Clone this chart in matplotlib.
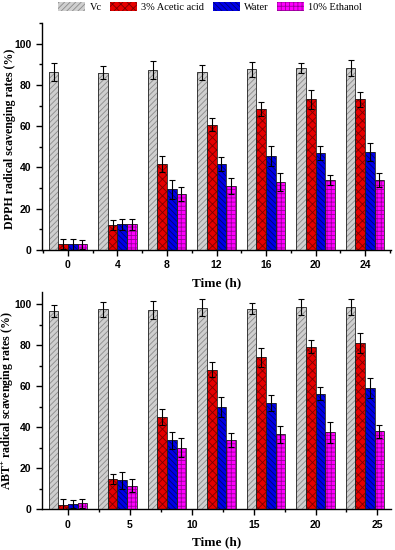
import matplotlib
matplotlib.use("Agg")
import matplotlib.pyplot as plt
import numpy as np
from matplotlib.ticker import MultipleLocator

plt.rcParams['mathtext.fontset'] = 'custom'
plt.rcParams['mathtext.rm'] = 'Liberation Serif:bold'
plt.rcParams['mathtext.it'] = 'Liberation Serif:bold'
plt.rcParams['mathtext.bf'] = 'Liberation Serif:bold'
plt.rcParams['hatch.linewidth'] = 0.6

hours = [0, 4, 8, 12, 16, 20, 24]
series = ["Vc", "3% Acetic acid", "Water", "10% Ethanol"]

dpph_vc = [86.4, 86.0, 87.3, 86.1, 87.6, 88.1, 88.1]
dpph_vc_err = [4.4, 3.0, 4.2, 3.7, 3.7, 2.4, 4.0]
dpph_acetic = [2.8, 12.2, 41.8, 60.8, 68.2, 73.0, 73.0]
dpph_acetic_err = [2.5, 2.5, 3.8, 3.0, 3.4, 4.6, 3.7]
dpph_water = [2.8, 12.4, 29.4, 41.8, 45.6, 47.0, 47.5]
dpph_water_err = [2.7, 2.8, 4.5, 3.4, 4.8, 3.3, 4.2]
dpph_ethanol = [2.8, 12.4, 27.0, 31.0, 33.1, 33.9, 33.9]
dpph_ethanol_err = [2.2, 2.8, 3.4, 4.0, 4.4, 2.3, 3.3]

abts_vc = [96.7, 97.6, 97.2, 98.4, 97.9, 98.7, 98.7]
abts_vc_err = [2.9, 3.7, 4.4, 4.0, 2.6, 3.7, 3.7]
abts_acetic = [2.1, 14.6, 45.0, 68.0, 74.1, 79.3, 81.1]
abts_acetic_err = [2.7, 2.5, 4.0, 3.7, 4.5, 3.2, 5.0]
abts_water = [2.4, 14.1, 33.7, 49.8, 51.8, 56.3, 59.2]
abts_water_err = [2.0, 4.0, 4.2, 5.0, 4.0, 3.2, 4.7]
abts_ethanol = [2.9, 11.4, 30.1, 33.7, 36.6, 37.5, 38.0]
abts_ethanol_err = [2.3, 3.2, 4.7, 3.5, 4.2, 5.3, 3.3]

top_xticks = [0, 4, 8, 12, 16, 20, 24]
bottom_xticks = [0, 5, 10, 15, 20, 25]

faces = ['#cfcfcf', '#e60000', '#0000e6', '#ff00ff']
hatchcols = ['#8a8a8a', '#7a0000', '#000070', '#9a009a']
hatches = ['//////', 'xxxx', '\\\\\\\\\\\\', '++++']

serif = 'Liberation Serif'
sans = 'Liberation Sans'

fig = plt.figure(figsize=(3.95, 5.5), dpi=100)
ax1 = fig.add_axes([42/395, 1-250/550, 349/395, 227/550])
ax2 = fig.add_axes([42/395, 1-509.3/550, 349/395, 217.3/550])

width = 0.775
offsets = np.array([-1.5, -0.5, 0.5, 1.5]) * width

def draw(ax, vals, errs, ylim, xticks, minor_step, ylabel):
    x = np.array(hours, dtype=float)
    handles = []
    for i, (v, e) in enumerate(zip(vals, errs)):
        b = ax.bar(x + offsets[i], v, width, color=faces[i], edgecolor=hatchcols[i],
                   hatch=hatches[i], linewidth=0, zorder=2, label=series[i])
        ax.bar(x + offsets[i], v, width, fill=False, edgecolor='#222222',
               linewidth=0.6, zorder=3)
        ax.errorbar(x + offsets[i], v, yerr=e, fmt='none', ecolor='black',
                    elinewidth=0.8, capsize=2.2, capthick=0.8, zorder=4)
        handles.append(b)
    ax.set_xlim(-2.1, 26.1)
    ax.set_ylim(0, ylim)
    ax.spines['top'].set_visible(False)
    ax.spines['right'].set_visible(False)
    ax.spines['left'].set_linewidth(1.0)
    ax.spines['bottom'].set_linewidth(1.0)
    ax.set_xticks(xticks)
    ax.xaxis.set_minor_locator(MultipleLocator(minor_step))
    ax.set_yticks([0, 20, 40, 60, 80, 100])
    ax.yaxis.set_minor_locator(MultipleLocator(10))
    ax.tick_params(which='major', direction='out', length=4, width=1.0,
                   labelsize=7.5)
    ax.tick_params(which='minor', direction='out', length=2.2, width=1.0)
    for lab in ax.get_xticklabels() + ax.get_yticklabels():
        lab.set_fontfamily(sans)
        lab.set_fontweight('bold')
    ax.set_xlabel('Time (h)', fontfamily=serif, fontweight='bold', fontsize=9.5,
                  labelpad=5)
    ax.set_ylabel(ylabel, fontfamily=serif, fontweight='bold', fontsize=8.6)
    return handles

handles = draw(ax1, [dpph_vc, dpph_acetic, dpph_water, dpph_ethanol],
               [dpph_vc_err, dpph_acetic_err, dpph_water_err, dpph_ethanol_err],
               110, top_xticks, 2, 'DPPH radical scavenging rates (%)')
draw(ax2, [abts_vc, abts_acetic, abts_water, abts_ethanol],
     [abts_vc_err, abts_acetic_err, abts_water_err, abts_ethanol_err],
     106, bottom_xticks, 2.5, r'ABT$^{+}$ radical scavenging rates (%)')

ax1.yaxis.set_label_coords(-0.074, 0.49)
ax2.yaxis.set_label_coords(-0.074, 0.5)

fig.legend(handles, series, loc='center', bbox_to_anchor=(210/395, 1-7/550),
           ncol=4, frameon=False, prop={'family': serif, 'size': 7.5},
           handlelength=2.6, handleheight=1.0, handletextpad=0.4,
           columnspacing=0.8, borderpad=0)

fig.savefig('out.png', dpi=100)
